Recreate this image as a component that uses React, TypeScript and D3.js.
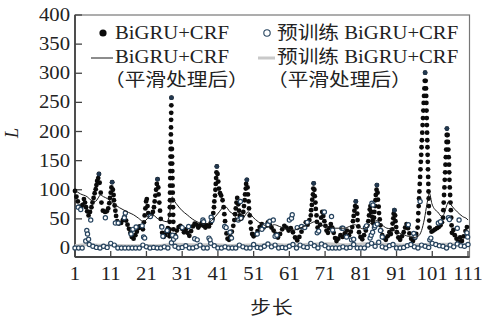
import React from 'react';
import * as d3 from 'd3';

// ---------- data ----------
const yTickValues = [0, 50, 100, 150, 200, 250, 300, 350, 400];
const xTickValues = [1, 11, 21, 31, 41, 51, 61, 71, 81, 91, 101, 111];

// BiGRU+CRF raw points [step, L]
const bigruPoints: [number, number][] = [
  [1, 98], [1.4, 88], [1.8, 80], [2.2, 71], [2.7, 69], [3.1, 74], [3.5, 84], [3.8, 78], [4.1, 70], [4.4, 63], [4.8, 56],
  [5.2, 62], [5.6, 70], [5.9, 78], [6.2, 86], [6.5, 94], [6.8, 101], [7.0, 108], [7.2, 115], [7.5, 120], [7.7, 127],
  [7.9, 112], [8.2, 95], [8.4, 78], [8.8, 64], [9.4, 62], [9.9, 63], [10.3, 68], [10.6, 77], [10.8, 86], [11.0, 95],
  [11.2, 104], [11.4, 113], [11.6, 100], [11.8, 91], [11.9, 82], [12.1, 73], [12.3, 64], [12.5, 55], [12.8, 46],
  [13.3, 42], [13.9, 43], [14.4, 48], [14.9, 54], [15.3, 47], [15.7, 40], [16.1, 33], [16.5, 26], [16.9, 19],
  [17.4, 16], [17.9, 22], [18.3, 28], [18.7, 34], [19.1, 37], [19.6, 35], [20.0, 32], [20.3, 44], [20.5, 56],
  [20.7, 68], [20.9, 80], [21.1, 84], [21.3, 72], [21.5, 60], [21.9, 54], [22.4, 57], [22.8, 62], [23.1, 70],
  [23.3, 80], [23.5, 90], [23.7, 100], [23.9, 110], [24.1, 118], [24.3, 104], [24.4, 92], [24.6, 78], [24.8, 64],
  [25.0, 50], [25.2, 37], [25.4, 26], [25.8, 19], [26.2, 22], [26.6, 28], [27.0, 34], [27.3, 26],
  [27.45, 20], [27.48, 32], [27.5, 45], [27.52, 57], [27.55, 70], [27.58, 82], [27.6, 95], [27.63, 107], [27.66, 120],
  [27.69, 132], [27.72, 145], [27.75, 157], [27.78, 170], [27.81, 182], [27.84, 195], [27.87, 207], [27.9, 220],
  [27.93, 232], [27.96, 245], [28.0, 258],
  [28.12, 170], [28.16, 157], [28.2, 145], [28.24, 132], [28.28, 120], [28.32, 107], [28.36, 95], [28.4, 82],
  [28.44, 70], [28.48, 57], [28.52, 45], [28.56, 32], [28.6, 20],
  [29.0, 22], [29.5, 30], [30.0, 36], [30.5, 38], [31.0, 33], [31.5, 27], [32.0, 32], [32.5, 26], [33.0, 21],
  [33.5, 29], [34.0, 37], [34.5, 42], [35.0, 40], [35.5, 35], [36.0, 39], [36.5, 43], [37.0, 38], [37.5, 35],
  [38.0, 39], [38.5, 37], [39.0, 43],
  [39.5, 50], [39.7, 60], [39.9, 70], [40.0, 80], [40.2, 90], [40.3, 100], [40.4, 110], [40.5, 120], [40.6, 130], [40.7, 140],
  [40.9, 127], [41.1, 114], [41.3, 102], [41.6, 94], [41.9, 90], [42.3, 82], [42.6, 70], [42.8, 58], [43.0, 46],
  [43.2, 35], [43.4, 25], [43.7, 16], [44.1, 14], [44.5, 20], [44.9, 28], [45.3, 38],
  [45.6, 48], [45.8, 58], [46.0, 68], [46.2, 78], [46.4, 86], [46.7, 75], [46.9, 64], [47.1, 56], [47.4, 52], [47.8, 54],
  [48.1, 62], [48.3, 72], [48.5, 82], [48.6, 92], [48.8, 102], [48.9, 110], [49.1, 117], [49.3, 104], [49.4, 92],
  [49.6, 80], [49.7, 68], [49.9, 56], [50.1, 44], [50.3, 33], [50.6, 24], [51.0, 20],
  [51.5, 23], [52.1, 29], [52.7, 36], [53.3, 41], [53.8, 35], [54.4, 38], [55.0, 44], [55.5, 40], [56.0, 35],
  [56.6, 30], [57.2, 24], [57.8, 18], [58.4, 24], [59.0, 32], [59.6, 38], [60.2, 35], [60.8, 30], [61.4, 34],
  [62.0, 27], [62.6, 18], [63.2, 13], [63.8, 19], [64.4, 28], [65.0, 36], [65.6, 44], [66.1, 40], [66.6, 48],
  [67.0, 56], [67.1, 65], [67.3, 74], [67.4, 83], [67.6, 92], [67.7, 102], [67.8, 111], [68.0, 100], [68.1, 89],
  [68.3, 78], [68.4, 67], [68.6, 56], [68.7, 45], [68.9, 35], [69.2, 28], [69.6, 40], [69.9, 52], [70.2, 62],
  [70.5, 55], [70.8, 46], [71.1, 38], [71.4, 30], [71.8, 26], [72.2, 34], [72.6, 41], [73.0, 35], [73.4, 26],
  [73.8, 17], [74.2, 12], [74.7, 16], [75.3, 22], [75.9, 19], [76.5, 25], [77.1, 30], [77.7, 22], [78.2, 28],
  [78.6, 36], [78.8, 46], [79.0, 55], [79.2, 64], [79.4, 72], [79.6, 80], [79.8, 70], [80.0, 59], [80.1, 48],
  [80.3, 37], [80.5, 27], [80.9, 19], [81.4, 15], [81.9, 22], [82.4, 30], [82.8, 38],
  [83.1, 46], [83.3, 56], [83.5, 66], [83.7, 72], [83.9, 62], [84.1, 54], [84.3, 47], [84.5, 42], [84.7, 52],
  [84.8, 62], [85.0, 72], [85.1, 82], [85.2, 91], [85.4, 100], [85.5, 108], [85.7, 95], [85.8, 83], [86.0, 71],
  [86.1, 60], [86.3, 49], [86.5, 39], [86.7, 30], [87.0, 22], [87.5, 17], [88.0, 14], [88.5, 20], [89.0, 27], [89.4, 24],
  [89.8, 32], [89.9, 42], [90.1, 51], [90.2, 59], [90.4, 65], [90.6, 56], [90.7, 46], [90.9, 36], [91.1, 27],
  [91.5, 18], [92.0, 14], [92.5, 20], [93.0, 27], [93.4, 35], [93.8, 41], [94.2, 34], [94.6, 25], [95.1, 16],
  [95.6, 12], [96.1, 17], [96.5, 24],
  [96.9, 35], [97.0, 47], [97.1, 60], [97.2, 72], [97.3, 85], [97.4, 97], [97.5, 110], [97.6, 122], [97.7, 135],
  [97.8, 148], [97.9, 160], [98.0, 173], [98.1, 185], [98.2, 198], [98.3, 211], [98.4, 223], [98.5, 236],
  [98.6, 249], [98.7, 261], [98.8, 274], [98.9, 287], [99.0, 301],
  [99.15, 287], [99.25, 274], [99.3, 261], [99.35, 249], [99.4, 236], [99.45, 223], [99.5, 211], [99.55, 198],
  [99.6, 185], [99.65, 173], [99.7, 160], [99.75, 148], [99.8, 135], [99.85, 122], [99.9, 110], [99.95, 97],
  [100.0, 85], [100.05, 72], [100.1, 60], [100.15, 47], [100.25, 35],
  [100.8, 28], [101.3, 30], [101.8, 32], [102.3, 34], [102.8, 36], [103.3, 39], [103.7, 44],
  [104.0, 52], [104.1, 65], [104.2, 78], [104.3, 91], [104.4, 104], [104.5, 117], [104.6, 130], [104.7, 143],
  [104.8, 156], [104.9, 169], [105.0, 182], [105.05, 194], [105.1, 205],
  [105.3, 194], [105.4, 182], [105.5, 169], [105.6, 156], [105.7, 143], [105.75, 130], [105.8, 117], [105.9, 104],
  [106.0, 91], [106.1, 78], [106.2, 65], [106.3, 52], [106.4, 39], [106.5, 26],
  [106.9, 31], [107.3, 22], [107.8, 16], [108.3, 11], [108.8, 18], [109.3, 12], [109.8, 20], [110.3, 29], [110.7, 36],
];

// Top point of each BiGRU+CRF burst (drawn in dark blue in the reference)
const bigruPeakPoints: [number, number][] = [
  [7.7, 127], [11.4, 113], [24.1, 118], [28.0, 258], [40.7, 140], [49.1, 117], [67.8, 111],
  [79.6, 80], [85.5, 108], [90.4, 65], [99.0, 301], [105.1, 205],
];

// 预训练 BiGRU+CRF: value at each integer step (the low band)
const pretrainBase: number[] = [
  0, 0, 0, 12, 6, 3, 1, 0, 3, 1,
  8, 5, 0, 0, 0, 0, 0, 0, 0, 5,
  2, 0, 1, 0, 0, 2, 0, 9, 3, 0,
  1, 4, 0, 0, 2, 5, 0, 0, 8, 4,
  0, 0, 2, 0, 0, 0, 5, 2, 0, 0,
  6, 1, 0, 3, 7, 2, 5, 0, 1, 0,
  3, 6, 0, 5, 2, 1, 8, 4, 0, 7,
  4, 0, 0, 0, 0, 2, 0, 1, 6, 0,
  0, 0, 5, 8, 3, 10, 2, 0, 4, 6,
  0, 0, 1, 4, 6, 2, 0, 5, 3, 1,
  8, 6, 4, 3, 0, 5, 2, 7, 4, 3, 6,
];

// 预训练 BiGRU+CRF: raised points [step, L]
const pretrainRaised: [number, number][] = [
  [1.9, 70], [2.6, 66], [4.3, 30], [4.5, 24], [4.8, 15], [5.4, 48], [9.5, 52], [12.3, 43], [13.1, 43],
  [14.8, 52], [15.1, 60], [16.7, 24], [17.2, 32], [18.1, 36], [19.8, 38], [20.2, 19], [20.5, 17], [22.1, 54],
  [25.3, 36], [25.6, 20], [26.8, 30], [28.3, 22], [28.6, 15], [29.2, 19], [31.0, 35], [32.8, 37], [34.5, 16],
  [35.2, 14], [36.8, 48], [37.0, 45], [38.5, 17], [38.8, 14], [39.1, 53], [39.3, 47], [42.9, 37], [43.3, 35],
  [44.4, 27], [44.8, 17], [46.7, 48], [47.3, 80], [47.5, 51], [52.0, 24], [53.3, 32], [54.0, 38], [55.0, 40],
  [55.5, 46], [56.5, 48], [57.0, 20], [57.5, 22], [61.0, 48], [61.6, 51], [61.8, 57], [63.2, 35], [64.4, 37],
  [65.3, 35], [66.0, 44], [68.8, 26], [69.2, 29], [70.8, 62], [72.8, 54], [73.1, 31], [75.7, 34], [76.0, 34],
  [77.0, 19], [78.4, 14], [79.0, 15], [82.3, 35], [82.6, 38], [83.6, 17], [83.9, 22], [84.3, 27], [84.1, 77],
  [84.4, 74], [84.8, 35], [85.0, 38], [85.6, 41], [86.5, 30], [87.0, 19], [94.3, 40], [95.8, 25], [96.2, 19],
  [97.6, 80], [100.3, 14], [100.6, 17], [102.7, 43], [103.3, 45], [105.5, 52], [105.8, 49], [108.0, 34],
  [108.5, 48], [110.7, 26], [110.9, 19],
];

// BiGRU+CRF (平滑处理后)
const bigruSmooth: [number, number][] = [
  [1, 99], [2.5, 93], [4.4, 88], [5.5, 82], [6.7, 80], [7.5, 86], [8.1, 91], [9, 88], [10, 85], [11, 80],
  [12.3, 74], [13.5, 69], [14.7, 65], [16, 61], [17.4, 57], [18.8, 51], [20.2, 45], [21.5, 52], [22.6, 57],
  [23.3, 55], [24, 51], [25.5, 47], [26.8, 45], [27.5, 60], [28.2, 88], [28.9, 80], [29.6, 74], [31, 64],
  [32.4, 57], [33.8, 50], [35.2, 45], [36.6, 42], [38, 42], [39.2, 47], [40.3, 54], [41.5, 63], [42.5, 70],
  [43.1, 71], [44.4, 62], [45.4, 58], [46.7, 47], [47.5, 47], [48.5, 55], [49.5, 62], [50.8, 53], [52.3, 45],
  [53.7, 40], [55.1, 36], [56.8, 40], [58.2, 37], [59.6, 34], [61, 32], [62.4, 31], [63.8, 34], [65.2, 37],
  [66.6, 41], [68, 45], [69.4, 41], [70.8, 37], [72.2, 36], [73.6, 34], [75, 34], [76.4, 34], [77.8, 37],
  [79.2, 40], [80.5, 36], [81.5, 33], [82.7, 35], [83.7, 42], [84.6, 45], [85.5, 47], [86.5, 42], [88.3, 34],
  [89.3, 33], [90.6, 29], [92, 25], [93.8, 21], [95.8, 18], [97, 20], [98, 30], [98.8, 50], [99.5, 75],
  [100.2, 94], [100.9, 76], [101.5, 68], [102.5, 62], [103.7, 54], [104.4, 60], [105, 72], [105.6, 80],
  [106.5, 72], [108, 62], [109.5, 54], [110.7, 50], [111, 48],
];

// 预训练 BiGRU+CRF (平滑处理后)
const pretrainSmooth: [number, number][] = [
  [1, 4], [5, 7], [8, 4], [12, 5], [16, 3], [20, 5], [24, 3], [28, 7], [32, 6], [36, 5], [40, 6], [44, 4],
  [48, 5], [52, 5], [56, 7], [60, 5], [64, 5], [68, 7], [72, 8], [76, 5], [80, 6], [84, 9], [88, 6], [92, 5],
  [96, 5], [100, 7], [104, 6], [108, 7], [111, 6],
];

const legendName = 'BiGRU+CRF';
const legendPreName = '预训练 BiGRU+CRF';
const legendSmoothNote = '（平滑处理后）';
const xAxisTitle = '步长';
const yAxisTitle = 'L';

// ---------- drawing ----------
const W = 482;
const H = 321;
const FONT = "'Liberation Serif', 'Noto Sans CJK SC', serif";
const NAVY = '#27445f';
const SX = 1.15;

function T(props: { x: number; y: number; anchor?: string; size?: number; children: React.ReactNode; italic?: boolean; spacing?: number }) {
  const { x, y, anchor = 'start', size = 18, italic = false, spacing = 0 } = props;
  return (
    <text
      transform={`translate(${x},${y}) scale(${SX},1)`}
      textAnchor={anchor}
      fontSize={size}
      fontFamily={FONT}
      fontStyle={italic ? 'italic' : 'normal'}
      letterSpacing={spacing}
      fill="#222"
    >
      {props.children}
    </text>
  );
}

export default function App() {
  const left = 75, right = 469.5, top = 15, bottom = 257;
  const x = d3.scaleLinear().domain([1, 111]).range([75, 468]);
  const y = d3.scaleLinear().domain([0, 400]).range([248, 15]);

  const smoothLine = d3.line<[number, number]>().x(d => x(d[0])).y(d => y(d[1])).curve(d3.curveMonotoneX);
  const grayLine = d3.line<[number, number]>().x(d => x(d[0])).y(d => y(d[1])).curve(d3.curveBasis);

  const baseSteps = d3.range(1, 112);

  return (
    <svg width={W} height={H} style={{ position: 'absolute', left: 0, top: 0, background: '#fff' }}>
      <rect x={0} y={0} width={W} height={H} fill="#fff" />
      {/* frame */}
      <rect x={left} y={top} width={right - left} height={bottom - top} fill="none" stroke="#777" strokeWidth={1.2} />
      <line x1={left} x2={left} y1={top} y2={bottom} stroke="#444" strokeWidth={1.8} />
      <line x1={left} x2={right} y1={bottom} y2={bottom} stroke="#444" strokeWidth={1.8} />

      {/* y ticks */}
      {yTickValues.map(v => (
        <g key={'y' + v}>
          <line x1={left} x2={left + 7} y1={y(v)} y2={y(v)} stroke="#444" strokeWidth={1.3} />
          <T x={70} y={y(v) + 6} anchor="end">{v}</T>
        </g>
      ))}
      {/* x ticks */}
      {xTickValues.map(v => (
        <g key={'x' + v}>
          <line x1={x(v)} x2={x(v)} y1={bottom} y2={bottom - 6} stroke="#444" strokeWidth={1.3} />
          <T x={x(v)} y={280} anchor="middle">{v}</T>
        </g>
      ))}

      {/* axis titles */}
      <text transform={`translate(18,133) rotate(-90)`} textAnchor="middle" fontSize={18} fontStyle="italic" fontFamily={FONT} fill="#222">{yAxisTitle}</text>
      <T x={272} y={314} anchor="middle" spacing={1}>{xAxisTitle}</T>

      {/* pretrained smoothed (gray) */}
      <path d={grayLine(pretrainSmooth) || ''} fill="none" stroke="#c9c9c9" strokeWidth={3} />

      {/* BiGRU+CRF raw */}
      {bigruPoints.map((p, i) => (
        <circle key={'b' + i} cx={x(p[0])} cy={y(p[1])} r={2.4} fill="#0b0b0b" />
      ))}
      {bigruPeakPoints.map((p, i) => (
        <circle key={'bp' + i} cx={x(p[0])} cy={y(p[1])} r={2.3} fill="#22384f" />
      ))}

      {/* pretrained raw */}
      {baseSteps.map((s, i) => (
        <circle key={'pb' + i} cx={x(s)} cy={y(pretrainBase[i])} r={2.1} fill="#fff" stroke={NAVY} strokeWidth={1.2} />
      ))}
      {pretrainRaised.map((p, i) => (
        <circle key={'pr' + i} cx={x(p[0])} cy={y(p[1])} r={2.1} fill="#fff" stroke={NAVY} strokeWidth={1.2} />
      ))}

      {/* BiGRU+CRF smoothed */}
      <path d={smoothLine(bigruSmooth) || ''} fill="none" stroke="#1a1a1a" strokeWidth={1} />

      {/* legend */}
      <circle cx={103} cy={33} r={3.6} fill="#0b0b0b" />
      <T x={115} y={39}>{legendName}</T>
      <line x1={91} x2={113} y1={58} y2={58} stroke="#1a1a1a" strokeWidth={1} />
      <T x={115} y={63}>{legendName}</T>
      <T x={104} y={86}>{legendSmoothNote}</T>

      <circle cx={267} cy={33} r={3.2} fill="#fff" stroke={NAVY} strokeWidth={1.1} />
      <T x={277} y={39}>{legendPreName}</T>
      <line x1={258} x2={275} y1={58} y2={58} stroke="#c9c9c9" strokeWidth={3} />
      <T x={277} y={63}>{legendPreName}</T>
      <T x={267} y={86}>{legendSmoothNote}</T>
    </svg>
  );
}
